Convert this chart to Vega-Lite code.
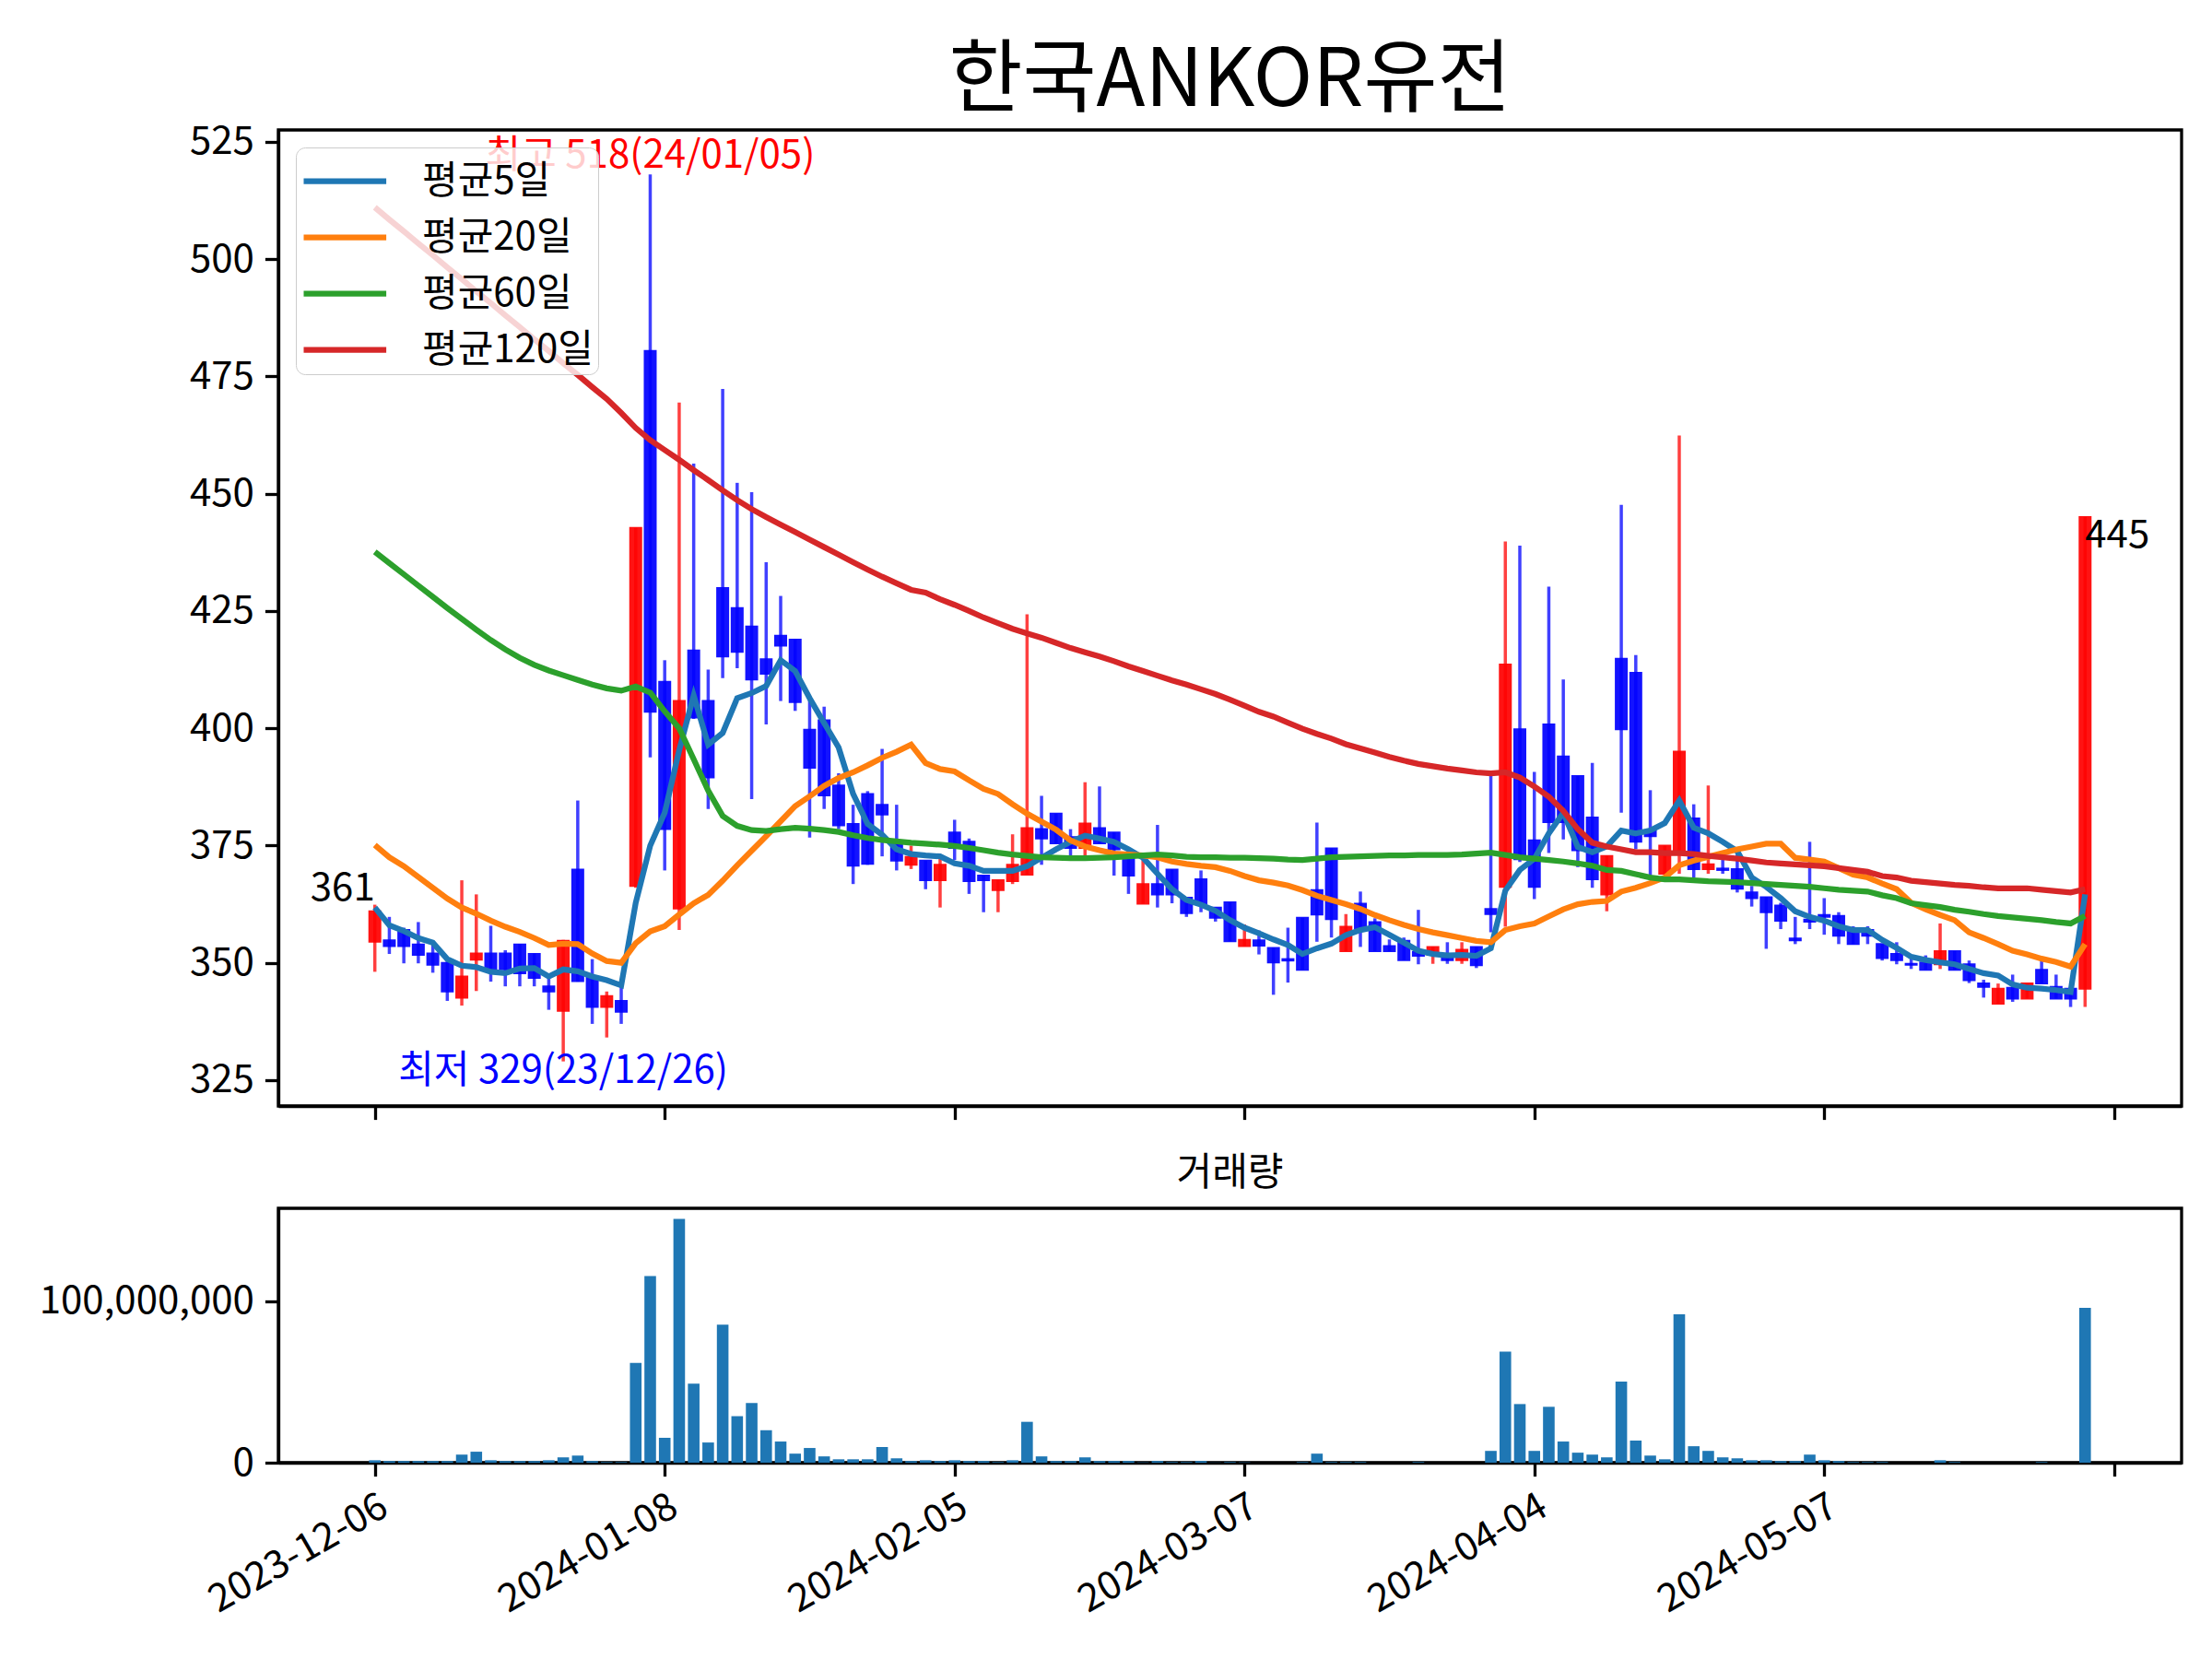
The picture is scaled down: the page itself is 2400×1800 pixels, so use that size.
{
  "$schema": "https://vega.github.io/schema/vega-lite/v6.json",
  "background": "white",
  "padding": {"left": 40, "top": 43, "right": 35, "bottom": 10},
  "config": {
    "font": "Noto Sans CJK KR",
    "view": {"stroke": "black", "strokeWidth": 3.3},
    "axis": {
      "grid": false, "title": null,
      "labelFont": "Noto Sans CJK KR", "labelFontSize": 42, "labelColor": "black", "labelLimit": 1000,
      "domainColor": "black", "domainWidth": 3.3,
      "tickColor": "black", "tickWidth": 3.3, "tickSize": 14.6, "labelPadding": 12
    },
    "concat": {"spacing": 32}
  },
  "datasets": {
    "d": [
      {"i":0,"o":354.5,"h":362.4,"l":348.1,"c":361,"v":1500000,"m5":361.8,"m20":375.1,"m60":437.6,"m120":511.0},
      {"i":1,"o":354.8,"h":359.8,"l":351.9,"c":353.6,"v":1000000,"m5":358.0,"m20":372.5,"m60":435.2,"m120":508.4},
      {"i":2,"o":357.0,"h":357.5,"l":349.9,"c":353.6,"v":1000000,"m5":356.8,"m20":370.6,"m60":432.8,"m120":505.9},
      {"i":3,"o":353.9,"h":358.7,"l":349.9,"c":351.7,"v":1000000,"m5":355.3,"m20":368.3,"m60":430.4,"m120":503.3},
      {"i":4,"o":352.0,"h":354.6,"l":347.9,"c":349.6,"v":1000000,"m5":354.3,"m20":366.0,"m60":428.0,"m120":500.8},
      {"i":5,"o":350.0,"h":350.5,"l":341.9,"c":343.9,"v":1000000,"m5":350.8,"m20":363.7,"m60":425.6,"m120":498.2},
      {"i":6,"o":342.6,"h":367.6,"l":340.9,"c":347.1,"v":5000000,"m5":349.4,"m20":361.8,"m60":423.3,"m120":495.7},
      {"i":7,"o":350.7,"h":364.6,"l":344.0,"c":352.0,"v":6800000,"m5":349.1,"m20":360.5,"m60":421.0,"m120":493.1},
      {"i":8,"o":352.0,"h":357.9,"l":346.0,"c":348.6,"v":1500000,"m5":348.1,"m20":359.0,"m60":418.8,"m120":490.6},
      {"i":9,"o":352.0,"h":352.7,"l":345.0,"c":348.6,"v":1000000,"m5":347.8,"m20":357.7,"m60":416.8,"m120":488.0},
      {"i":10,"o":353.9,"h":354.0,"l":345.0,"c":347.8,"v":1000000,"m5":348.8,"m20":356.6,"m60":415.0,"m120":485.5},
      {"i":11,"o":351.9,"h":352.0,"l":345.0,"c":346.8,"v":1000000,"m5":348.9,"m20":355.3,"m60":413.5,"m120":482.9},
      {"i":12,"o":345.0,"h":346.8,"l":340.0,"c":343.9,"v":1500000,"m5":347.1,"m20":353.8,"m60":412.3,"m120":480.4},
      {"i":13,"o":339.8,"h":354.9,"l":329.0,"c":354.7,"v":3300000,"m5":348.6,"m20":354.1,"m60":411.3,"m120":477.8},
      {"i":14,"o":369.9,"h":384.6,"l":346.0,"c":346.1,"v":4400000,"m5":348.2,"m20":354.0,"m60":410.3,"m120":475.3},
      {"i":15,"o":347.1,"h":350.8,"l":337.0,"c":340.6,"v":1000000,"m5":347.1,"m20":352.0,"m60":409.3,"m120":472.7},
      {"i":16,"o":340.6,"h":343.9,"l":334.1,"c":342.9,"v":400000,"m5":346.3,"m20":350.4,"m60":408.5,"m120":470.2},
      {"i":17,"o":341.9,"h":345.0,"l":337.0,"c":339.6,"v":400000,"m5":345.2,"m20":350.0,"m60":408.0,"m120":467.2},
      {"i":18,"o":366.4,"h":442.7,"l":366.0,"c":442.7,"v":61800000,"m5":362.8,"m20":354.2,"m60":408.9,"m120":464.0},
      {"i":19,"o":480.4,"h":518.0,"l":393.8,"c":403.5,"v":115600000,"m5":375.0,"m20":356.7,"m60":407.6,"m120":461.4},
      {"i":20,"o":409.9,"h":414.5,"l":369.7,"c":378.5,"v":15400000,"m5":382.0,"m20":357.8,"m60":403.6,"m120":459.3},
      {"i":21,"o":361.6,"h":469.4,"l":357.0,"c":405.8,"v":151000000,"m5":395.3,"m20":360.3,"m60":400.0,"m120":457.2},
      {"i":22,"o":416.6,"h":456.4,"l":402.0,"c":402.3,"v":49000000,"m5":407.0,"m20":362.7,"m60":393.4,"m120":455.0},
      {"i":23,"o":405.8,"h":412.5,"l":382.8,"c":389.5,"v":12500000,"m5":396.5,"m20":364.5,"m60":386.7,"m120":452.9},
      {"i":24,"o":429.9,"h":472.3,"l":410.7,"c":415.3,"v":85500000,"m5":399.0,"m20":367.5,"m60":381.3,"m120":450.7},
      {"i":25,"o":425.6,"h":452.3,"l":412.8,"c":416.3,"v":28800000,"m5":406.4,"m20":370.8,"m60":379.2,"m120":448.6},
      {"i":26,"o":421.7,"h":450.3,"l":384.9,"c":410.4,"v":36900000,"m5":407.5,"m20":373.9,"m60":378.3,"m120":446.7},
      {"i":27,"o":414.7,"h":435.4,"l":400.8,"c":411.6,"v":20100000,"m5":409.0,"m20":377.0,"m60":378.1,"m120":445.0},
      {"i":28,"o":419.7,"h":428.2,"l":405.8,"c":417.6,"v":13100000,"m5":414.5,"m20":380.2,"m60":378.5,"m120":443.4},
      {"i":29,"o":418.9,"h":419.0,"l":403.7,"c":405.6,"v":5600000,"m5":412.2,"m20":383.4,"m60":378.8,"m120":441.8},
      {"i":30,"o":399.7,"h":406.4,"l":376.7,"c":391.6,"v":9100000,"m5":406.4,"m20":385.5,"m60":378.6,"m120":440.2},
      {"i":31,"o":401.7,"h":404.6,"l":382.8,"c":385.7,"v":3900000,"m5":401.1,"m20":387.7,"m60":378.3,"m120":438.6},
      {"i":32,"o":387.8,"h":390.4,"l":378.5,"c":379.3,"v":2100000,"m5":395.9,"m20":389.4,"m60":377.9,"m120":437.0},
      {"i":33,"o":379.6,"h":383.7,"l":366.8,"c":370.7,"v":2100000,"m5":386.0,"m20":390.6,"m60":377.2,"m120":435.4},
      {"i":34,"o":386.0,"h":386.6,"l":370.9,"c":371.1,"v":2100000,"m5":379.6,"m20":392.1,"m60":376.6,"m120":433.8},
      {"i":35,"o":383.7,"h":395.6,"l":372.7,"c":381.6,"v":9700000,"m5":377.3,"m20":393.7,"m60":376.2,"m120":432.3},
      {"i":36,"o":375.6,"h":383.7,"l":369.7,"c":371.8,"v":2700000,"m5":374.2,"m20":395.0,"m60":375.9,"m120":430.9},
      {"i":37,"o":370.9,"h":375.0,"l":370.0,"c":372.6,"v":1000000,"m5":373.2,"m20":396.5,"m60":375.6,"m120":429.5},
      {"i":38,"o":371.8,"h":371.8,"l":365.7,"c":367.6,"v":1500000,"m5":372.9,"m20":392.6,"m60":375.4,"m120":428.9},
      {"i":39,"o":367.6,"h":372.3,"l":361.8,"c":370.9,"v":1000000,"m5":372.7,"m20":391.3,"m60":375.2,"m120":427.5},
      {"i":40,"o":377.8,"h":380.5,"l":371.9,"c":374.5,"v":1500000,"m5":371.2,"m20":390.8,"m60":374.9,"m120":426.3},
      {"i":41,"o":375.8,"h":376.5,"l":364.7,"c":367.4,"v":1000000,"m5":370.7,"m20":388.9,"m60":374.5,"m120":425.0},
      {"i":42,"o":368.6,"h":368.6,"l":360.8,"c":367.6,"v":1000000,"m5":369.6,"m20":387.1,"m60":374.0,"m120":423.6},
      {"i":43,"o":365.5,"h":367.6,"l":360.8,"c":367.6,"v":400000,"m5":369.6,"m20":386.0,"m60":373.5,"m120":422.4},
      {"i":44,"o":367.4,"h":377.4,"l":366.8,"c":370.9,"v":1500000,"m5":369.6,"m20":383.8,"m60":373.1,"m120":421.2},
      {"i":45,"o":368.8,"h":424.3,"l":368.8,"c":378.7,"v":25300000,"m5":370.6,"m20":381.8,"m60":372.8,"m120":420.2},
      {"i":46,"o":378.5,"h":385.6,"l":370.9,"c":376.5,"v":3900000,"m5":372.4,"m20":380.1,"m60":372.5,"m120":419.3},
      {"i":47,"o":381.8,"h":381.8,"l":375.5,"c":375.5,"v":1000000,"m5":374.2,"m20":378.4,"m60":372.4,"m120":418.2},
      {"i":48,"o":376.8,"h":378.5,"l":372.9,"c":374.5,"v":1000000,"m5":375.8,"m20":376.1,"m60":372.3,"m120":417.1},
      {"i":49,"o":374.5,"h":388.5,"l":372.9,"c":379.7,"v":3300000,"m5":377.1,"m20":374.8,"m60":372.3,"m120":416.2},
      {"i":50,"o":378.7,"h":387.6,"l":375.5,"c":375.5,"v":1000000,"m5":376.5,"m20":374.0,"m60":372.4,"m120":415.3},
      {"i":51,"o":377.8,"h":377.8,"l":368.6,"c":374.2,"v":1000000,"m5":375.8,"m20":373.3,"m60":372.5,"m120":414.3},
      {"i":52,"o":373.5,"h":373.5,"l":364.7,"c":368.6,"v":1000000,"m5":374.2,"m20":373.1,"m60":372.7,"m120":413.2},
      {"i":53,"o":362.6,"h":371.9,"l":362.6,"c":366.8,"v":200000,"m5":372.4,"m20":372.9,"m60":372.9,"m120":412.2},
      {"i":54,"o":366.8,"h":379.4,"l":361.8,"c":364.6,"v":1000000,"m5":369.0,"m20":372.5,"m60":373.1,"m120":411.2},
      {"i":55,"o":369.9,"h":369.9,"l":362.7,"c":364.6,"v":400000,"m5":365.7,"m20":371.6,"m60":372.9,"m120":410.2},
      {"i":56,"o":363.9,"h":363.9,"l":359.8,"c":360.6,"v":400000,"m5":363.4,"m20":371.1,"m60":372.6,"m120":409.3},
      {"i":57,"o":367.8,"h":369.7,"l":360.8,"c":362.6,"v":1000000,"m5":362.4,"m20":370.7,"m60":372.5,"m120":408.3},
      {"i":58,"o":361.8,"h":361.8,"l":358.8,"c":359.6,"v":100000,"m5":361.1,"m20":370.4,"m60":372.5,"m120":407.3},
      {"i":59,"o":362.9,"h":362.9,"l":354.6,"c":354.6,"v":400000,"m5":359.1,"m20":369.6,"m60":372.4,"m120":406.1},
      {"i":60,"o":353.6,"h":358.2,"l":353.6,"c":354.9,"v":200000,"m5":357.5,"m20":368.5,"m60":372.4,"m120":404.8},
      {"i":61,"o":354.8,"h":356.9,"l":351.8,"c":353.7,"v":0,"m5":356.3,"m20":367.6,"m60":372.3,"m120":403.5},
      {"i":62,"o":353.2,"h":353.2,"l":343.2,"c":350.1,"v":0,"m5":355.0,"m20":367.1,"m60":372.2,"m120":402.5},
      {"i":63,"o":350.8,"h":357.5,"l":345.8,"c":350.5,"v":0,"m5":353.8,"m20":366.5,"m60":372.0,"m120":401.2},
      {"i":64,"o":359.6,"h":359.6,"l":348.5,"c":348.5,"v":400000,"m5":351.9,"m20":365.5,"m60":371.9,"m120":399.9},
      {"i":65,"o":365.5,"h":379.9,"l":354.5,"c":360.3,"v":5600000,"m5":353.1,"m20":364.3,"m60":372.2,"m120":398.8},
      {"i":66,"o":374.4,"h":374.4,"l":355.4,"c":359.3,"v":400000,"m5":354.1,"m20":363.4,"m60":372.5,"m120":397.8},
      {"i":67,"o":352.5,"h":360.4,"l":352.5,"c":357.7,"v":400000,"m5":355.9,"m20":362.5,"m60":372.6,"m120":396.6},
      {"i":68,"o":362.6,"h":365.2,"l":353.4,"c":357.4,"v":400000,"m5":357.0,"m20":361.5,"m60":372.7,"m120":395.7},
      {"i":69,"o":358.7,"h":359.5,"l":352.5,"c":352.5,"v":0,"m5":357.6,"m20":360.2,"m60":372.8,"m120":394.8},
      {"i":70,"o":353.6,"h":355.0,"l":352.5,"c":352.5,"v":0,"m5":356.0,"m20":359.1,"m60":372.9,"m120":393.9},
      {"i":71,"o":354.7,"h":355.4,"l":350.6,"c":350.6,"v":0,"m5":354.3,"m20":358.1,"m60":372.9,"m120":393.1},
      {"i":72,"o":352.3,"h":361.3,"l":349.7,"c":351.5,"v":400000,"m5":352.6,"m20":357.2,"m60":373.0,"m120":392.4},
      {"i":73,"o":351.7,"h":353.4,"l":349.8,"c":353.4,"v":0,"m5":351.9,"m20":356.5,"m60":373.0,"m120":391.9},
      {"i":74,"o":351.2,"h":354.4,"l":349.8,"c":350.6,"v":0,"m5":351.6,"m20":355.9,"m60":373.0,"m120":391.4},
      {"i":75,"o":350.6,"h":354.4,"l":349.8,"c":352.8,"v":0,"m5":351.7,"m20":355.3,"m60":373.1,"m120":391.0},
      {"i":76,"o":353.4,"h":353.4,"l":348.9,"c":349.5,"v":0,"m5":351.5,"m20":354.7,"m60":373.3,"m120":390.6},
      {"i":77,"o":361.5,"h":390.4,"l":356.5,"c":360.4,"v":7300000,"m5":353.1,"m20":354.4,"m60":373.5,"m120":390.4},
      {"i":78,"o":366.2,"h":439.8,"l":357.7,"c":413.6,"v":68700000,"m5":365.4,"m20":357.0,"m60":373.0,"m120":390.6},
      {"i":79,"o":399.8,"h":438.9,"l":371.5,"c":372.1,"v":36300000,"m5":369.8,"m20":357.8,"m60":372.5,"m120":389.5},
      {"i":80,"o":376.1,"h":390.7,"l":363.6,"c":366.2,"v":7300000,"m5":372.2,"m20":358.4,"m60":372.2,"m120":387.6},
      {"i":81,"o":400.8,"h":430.2,"l":373.4,"c":380.0,"v":34600000,"m5":377.6,"m20":359.9,"m60":371.9,"m120":385.4},
      {"i":82,"o":394.0,"h":410.4,"l":376.3,"c":380.0,"v":13100000,"m5":382.0,"m20":361.4,"m60":371.6,"m120":382.4},
      {"i":83,"o":389.8,"h":389.8,"l":370.4,"c":374.0,"v":6200000,"m5":374.7,"m20":362.5,"m60":371.2,"m120":378.5},
      {"i":84,"o":381.0,"h":392.6,"l":366.0,"c":367.8,"v":5000000,"m5":373.6,"m20":363.0,"m60":370.7,"m120":375.6},
      {"i":85,"o":364.6,"h":372.8,"l":361.0,"c":372.8,"v":3300000,"m5":374.8,"m20":363.2,"m60":369.8,"m120":374.8},
      {"i":86,"o":414.8,"h":447.6,"l":382.0,"c":399.8,"v":50200000,"m5":378.2,"m20":365.2,"m60":369.6,"m120":374.2},
      {"i":87,"o":411.8,"h":415.6,"l":374.2,"c":375.8,"v":13700000,"m5":377.6,"m20":366.0,"m60":368.9,"m120":373.6},
      {"i":88,"o":378.2,"h":386.8,"l":368.6,"c":377.0,"v":4400000,"m5":378.2,"m20":367.0,"m60":368.2,"m120":373.6},
      {"i":89,"o":369.0,"h":375.0,"l":369.0,"c":375.0,"v":2100000,"m5":379.8,"m20":368.2,"m60":367.8,"m120":373.4},
      {"i":90,"o":373.8,"h":462.4,"l":369.0,"c":395.0,"v":91900000,"m5":384.6,"m20":370.8,"m60":367.8,"m120":373.4},
      {"i":91,"o":380.8,"h":383.8,"l":368.2,"c":370.0,"v":10200000,"m5":378.8,"m20":371.8,"m60":367.6,"m120":373.2},
      {"i":92,"o":370.0,"h":387.8,"l":369.0,"c":371.0,"v":7300000,"m5":377.6,"m20":372.6,"m60":367.4,"m120":372.8},
      {"i":93,"o":370.1,"h":372.2,"l":369.0,"c":369.8,"v":3300000,"m5":375.8,"m20":373.4,"m60":367.3,"m120":372.5},
      {"i":94,"o":370.0,"h":373.4,"l":365.0,"c":365.8,"v":2700000,"m5":373.8,"m20":374.2,"m60":367.2,"m120":372.2},
      {"i":95,"o":365.0,"h":366.4,"l":362.0,"c":363.8,"v":1500000,"m5":368.2,"m20":374.8,"m60":367.0,"m120":371.8},
      {"i":96,"o":364.0,"h":364.0,"l":353.0,"c":360.8,"v":1500000,"m5":366.2,"m20":375.4,"m60":366.8,"m120":371.4},
      {"i":97,"o":362.2,"h":362.8,"l":357.2,"c":359.0,"v":1000000,"m5":363.8,"m20":375.4,"m60":366.6,"m120":371.2},
      {"i":98,"o":355.2,"h":359.8,"l":354.0,"c":354.8,"v":1000000,"m5":361.0,"m20":372.4,"m60":366.4,"m120":371.0},
      {"i":99,"o":359.2,"h":375.8,"l":357.2,"c":358.8,"v":5000000,"m5":359.8,"m20":372.0,"m60":366.2,"m120":370.8},
      {"i":100,"o":360.2,"h":363.8,"l":356.0,"c":359.8,"v":1500000,"m5":359.0,"m20":371.6,"m60":365.9,"m120":370.6},
      {"i":101,"o":360.0,"h":360.8,"l":354.0,"c":355.8,"v":1000000,"m5":357.8,"m20":370.2,"m60":365.6,"m120":370.2},
      {"i":102,"o":356.6,"h":357.8,"l":354.0,"c":354.0,"v":400000,"m5":357.0,"m20":368.8,"m60":365.4,"m120":369.8},
      {"i":103,"o":357.0,"h":357.8,"l":354.0,"c":355.8,"v":400000,"m5":357.0,"m20":368.2,"m60":365.2,"m120":369.4},
      {"i":104,"o":354.0,"h":354.0,"l":350.5,"c":351.0,"v":400000,"m5":354.9,"m20":366.9,"m60":364.4,"m120":368.5},
      {"i":105,"o":351.9,"h":354.4,"l":349.7,"c":350.6,"v":0,"m5":353.2,"m20":365.7,"m60":363.8,"m120":368.2},
      {"i":106,"o":349.8,"h":350.9,"l":348.7,"c":349.6,"v":0,"m5":351.3,"m20":362.8,"m60":362.7,"m120":367.5},
      {"i":107,"o":350.1,"h":351.6,"l":348.5,"c":348.5,"v":0,"m5":350.6,"m20":361.4,"m60":362.3,"m120":367.2},
      {"i":108,"o":349.7,"h":358.4,"l":348.7,"c":352.5,"v":1500000,"m5":350.1,"m20":360.2,"m60":361.9,"m120":366.9},
      {"i":109,"o":352.5,"h":352.5,"l":348.5,"c":348.5,"v":400000,"m5":349.7,"m20":359.1,"m60":361.3,"m120":366.6},
      {"i":110,"o":349.7,"h":350.5,"l":345.7,"c":346.3,"v":0,"m5":348.7,"m20":356.5,"m60":360.9,"m120":366.4},
      {"i":111,"o":345.6,"h":346.4,"l":342.6,"c":344.9,"v":0,"m5":347.8,"m20":355.3,"m60":360.4,"m120":366.1},
      {"i":112,"o":341.3,"h":345.6,"l":341.3,"c":344.5,"v":0,"m5":347.3,"m20":354.0,"m60":360.0,"m120":365.9},
      {"i":113,"o":344.7,"h":347.5,"l":341.7,"c":342.4,"v":0,"m5":345.4,"m20":352.6,"m60":359.7,"m120":365.9},
      {"i":114,"o":342.4,"h":345.6,"l":342.4,"c":345.6,"v":0,"m5":344.7,"m20":351.8,"m60":359.4,"m120":365.9},
      {"i":115,"o":348.5,"h":351.2,"l":345.6,"c":345.6,"v":400000,"m5":344.5,"m20":350.9,"m60":359.1,"m120":365.6},
      {"i":116,"o":344.9,"h":347.5,"l":342.4,"c":342.4,"v":0,"m5":344.2,"m20":350.2,"m60":358.7,"m120":365.3},
      {"i":117,"o":344.5,"h":344.5,"l":340.6,"c":342.4,"v":0,"m5":343.8,"m20":349.2,"m60":358.4,"m120":365.0},
      {"i":118,"o":344.5,"h":445.0,"l":340.6,"c":445,"v":95900000,"m5":364.6,"m20":354.0,"m60":360.0,"m120":365.7}
    ]
  },
  "vconcat": [
    {
      "width": 2065,
      "height": 1059,
      "title": {"text": "한국ANKOR유전", "fontSize": 87, "fontWeight": "normal", "color": "black", "frame": "group", "offset": 0},
      "data": {"name": "d"},
      "encoding": {
        "x": {
          "field": "i", "type": "quantitative",
          "scale": {"domain": [-6.34, 124.34], "nice": false, "zero": false},
          "axis": {"values": [0, 20, 40, 60, 80, 100, 120], "labels": false}
        }
      },
      "layer": [
        {
          "mark": {"type": "rule", "strokeWidth": 3.5, "opacity": 0.75},
          "encoding": {
            "y": {
              "field": "l", "type": "quantitative",
              "scale": {"domain": [319.5, 527.5], "nice": false, "zero": false},
              "axis": {"values": [325, 350, 375, 400, 425, 450, 475, 500, 525]}
            },
            "y2": {"field": "h"},
            "color": {"condition": {"test": "datum.c >= datum.o", "value": "#ff0000"}, "value": "#0000ff"}
          }
        },
        {
          "mark": {"type": "bar", "size": 12, "opacity": 0.92, "strokeWidth": 2},
          "encoding": {
            "y": {"field": "o", "type": "quantitative"},
            "y2": {"field": "c"},
            "color": {"condition": {"test": "datum.c >= datum.o", "value": "#ff0000"}, "value": "#0000ff"},
            "stroke": {"condition": {"test": "datum.c >= datum.o", "value": "#ff0000"}, "value": "#0000ff"}
          }
        },
        {
          "transform": [{"fold": ["m5", "m20", "m60", "m120"], "as": ["key", "val"]}],
          "mark": {"type": "line", "strokeWidth": 6.25},
          "encoding": {
            "y": {"field": "val", "type": "quantitative"},
            "color": {
              "field": "key", "type": "nominal",
              "scale": {"domain": ["m5", "m20", "m60", "m120"], "range": ["#1f77b4", "#ff7f0e", "#2ca02c", "#d62728"]},
              "legend": {
                "orient": "top-left", "title": null, "offset": 19, "padding": 5,
                "fillColor": "rgba(255,255,255,0.8)", "strokeColor": "#cccccc", "cornerRadius": 10,
                "symbolType": "M-1,0H2.2", "symbolStrokeWidth": 6.25, "symbolSize": 3136, "symbolFillColor": "transparent",
                "labelFontSize": 42, "labelColor": "black", "labelOffset": 69, "rowPadding": 8, "labelLimit": 1000,
                "labelExpr": "{'m5': '평균5일', 'm20': '평균20일', 'm60': '평균60일', 'm120': '평균120일'}[datum.value]"
              }
            }
          }
        },
        {
          "transform": [{"filter": "datum.i == 19"}],
          "mark": {"type": "text", "fontSize": 42, "color": "#ff0000", "align": "center", "baseline": "alphabetic", "dy": -7},
          "encoding": {"y": {"field": "h", "type": "quantitative"}, "text": {"value": "최고 518(24/01/05)"}}
        },
        {
          "transform": [{"filter": "datum.i == 13"}],
          "mark": {"type": "text", "fontSize": 42, "color": "#0000ff", "align": "center", "baseline": "top", "dy": -10},
          "encoding": {"y": {"field": "l", "type": "quantitative"}, "text": {"value": "최저 329(23/12/26)"}}
        },
        {
          "transform": [{"filter": "datum.i == 0"}],
          "mark": {"type": "text", "fontSize": 42, "color": "black", "align": "right", "baseline": "alphabetic", "dy": -12},
          "encoding": {"y": {"field": "c", "type": "quantitative"}, "text": {"field": "c", "type": "quantitative", "format": ".0f"}}
        },
        {
          "transform": [{"filter": "datum.i == 118"}],
          "mark": {"type": "text", "fontSize": 42, "color": "black", "align": "left", "baseline": "top"},
          "encoding": {"y": {"field": "c", "type": "quantitative"}, "text": {"field": "c", "type": "quantitative", "format": ".0f"}}
        }
      ]
    },
    {
      "width": 2065,
      "height": 276,
      "title": {"text": "거래량", "fontSize": 42, "fontWeight": "normal", "color": "black", "frame": "group", "offset": 16},
      "data": {"name": "d"},
      "mark": {"type": "bar", "size": 12.6, "color": "#1f77b4"},
      "encoding": {
        "x": {
          "field": "i", "type": "quantitative",
          "scale": {"domain": [-6.34, 124.34], "nice": false, "zero": false},
          "axis": {
            "values": [0, 20, 40, 60, 80, 100, 120],
            "labelAngle": -30, "labelAlign": "right", "labelBaseline": "top", "labelOverlap": false,
            "labelExpr": "datum.value == 0 ? '2023-12-06' : datum.value == 20 ? '2024-01-08' : datum.value == 40 ? '2024-02-05' : datum.value == 60 ? '2024-03-07' : datum.value == 80 ? '2024-04-04' : datum.value == 100 ? '2024-05-07' : ''"
          }
        },
        "y": {
          "field": "v", "type": "quantitative",
          "scale": {"domain": [0, 157500000], "nice": false},
          "axis": {"values": [0, 100000000], "format": ",d"}
        }
      }
    }
  ]
}
